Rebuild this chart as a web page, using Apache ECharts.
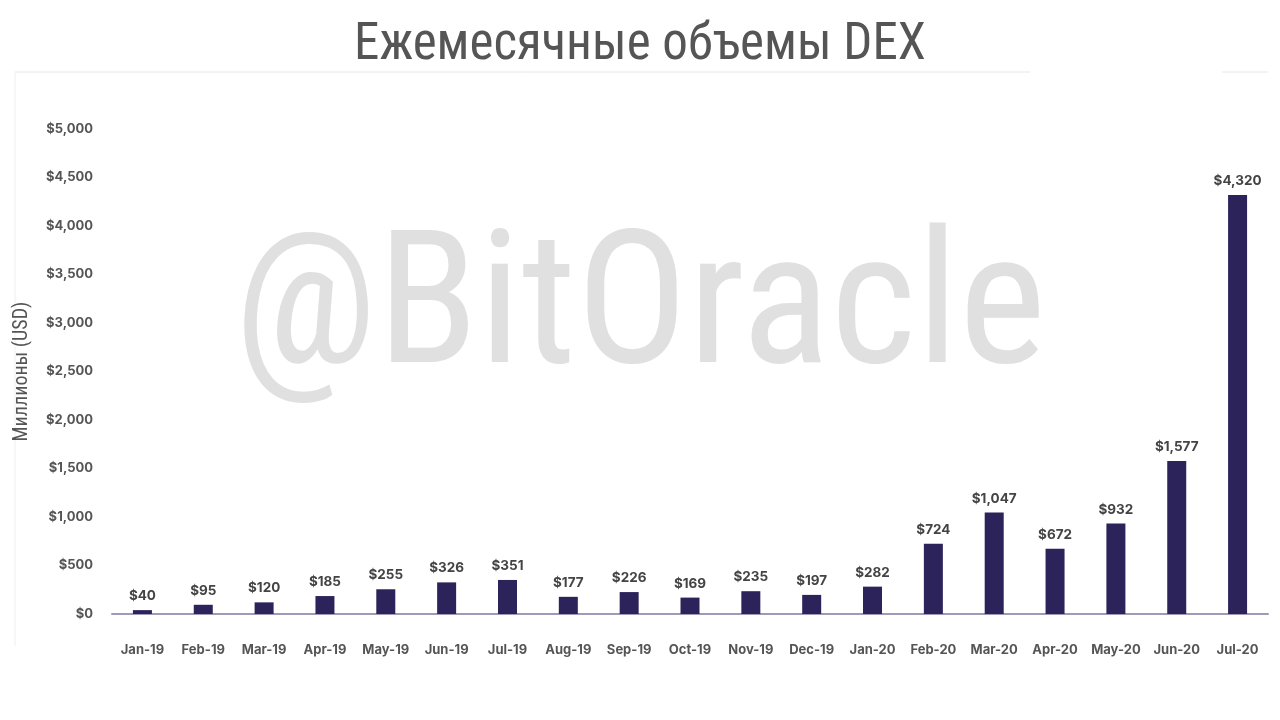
<!DOCTYPE html>
<html><head><meta charset="utf-8">
<script src="https://cdn.jsdelivr.net/npm/echarts@6/dist/echarts.min.js"></script>
<style>html,body{margin:0;padding:0;background:#fff}#c{width:1280px;height:720px}</style>
</head><body><div id="c"></div>
<script>
const categories = ['Jan-19','Feb-19','Mar-19','Apr-19','May-19','Jun-19','Jul-19','Aug-19','Sep-19','Oct-19','Nov-19','Dec-19','Jan-20','Feb-20','Mar-20','Apr-20','May-20','Jun-20','Jul-20'];
const volumes = [40,95,120,185,255,326,351,177,226,169,235,197,282,724,1047,672,932,1577,4320];
const yTicks = [0,500,1000,1500,2000,2500,3000,3500,4000,4500,5000];
const titleText = 'Ежемесячные объемы DEX';
const yAxisName = 'Миллионы (USD)';
const watermark = '@BitOracle';

const narrow = "'Roboto Condensed', 'Liberation Sans Narrow', sans-serif";
const fmt = v => '$' + v.toLocaleString('en-US');
const chart = echarts.init(document.getElementById('c'));
chart.setOption({
  backgroundColor:'#fff',
  animation:false,
  title:{text:titleText,left:'center',top:16,textStyle:{fontFamily:narrow,fontSize:51,fontWeight:'normal',color:'#555'}},
  graphic:[
    {type:'line',shape:{x1:15,y1:72,x2:1030,y2:72},style:{stroke:'#e6e6e6',lineWidth:1},z:-1},
    {type:'line',shape:{x1:1222,y1:72,x2:1268,y2:72},style:{stroke:'#e6e6e6',lineWidth:1},z:-1},
    {type:'line',shape:{x1:15,y1:72,x2:15,y2:646},style:{stroke:'#efefef',lineWidth:1},z:-1},
    {type:'text',left:'center',top:222,z:-1,style:{text:watermark,fontFamily:narrow,fontWeight:'normal',fontSize:186,fill:'#e0e0e0'}},
  ],
  grid:{left:112,right:12,top:129,bottom:106},
  xAxis:{type:'category',data:categories,
    axisLine:{lineStyle:{color:'#9e9ab8',width:2}},
    axisTick:{show:false},
    axisLabel:{interval:0,color:'#555',fontSize:13,fontWeight:'bold',margin:30,fontFamily:'Inter, sans-serif'}},
  yAxis:{type:'value',min:0,max:5000,interval:500,
    name:yAxisName,nameLocation:'middle',nameGap:80,nameRotate:90,
    nameTextStyle:{color:'#555',fontSize:20,fontFamily:narrow},
    splitLine:{show:false},axisLine:{show:false},axisTick:{show:false},
    axisLabel:{color:'#555',fontSize:13,fontWeight:'bold',margin:19,fontFamily:'Inter, sans-serif',
      formatter:v=>yTicks.includes(v)?fmt(v):''}},
  series:[{type:'bar',data:volumes,barWidth:19,
    itemStyle:{color:'#2b2359'},
    label:{show:true,position:'top',distance:7,color:'#444',fontSize:13.5,fontWeight:'bold',fontFamily:'Inter, sans-serif',formatter:p=>fmt(p.value)}}]
});
</script></body></html>
